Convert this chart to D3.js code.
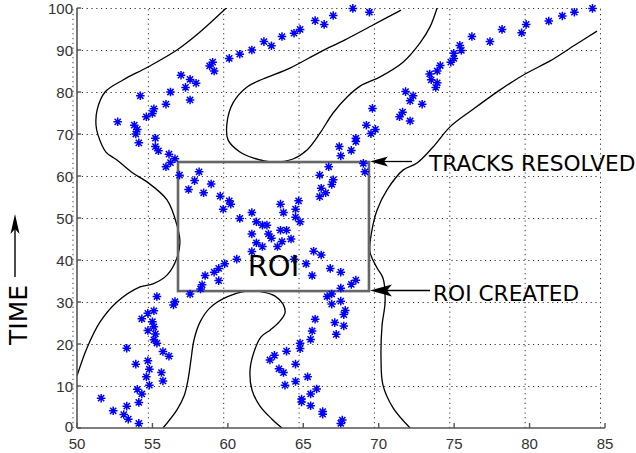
<!DOCTYPE html>
<html><head><meta charset="utf-8">
<script src="https://cdn.jsdelivr.net/npm/d3@7"></script>
<style>body{margin:0;background:#fff}svg{display:block}</style>
</head><body>
<svg id="c" width="636" height="453"></svg>
<script>
// ---- data ----
const xTicks = [50,55,60,65,70,75,80,85];
const yTicks = [0,10,20,30,40,50,60,70,80,90,100];

const trackNW = [[57.1,60.2],[56.2,62.2],[56.5,63.2],[56.8,64.1],[56.4,65.2],[55.7,66.0],[55.5,67.0],[54.4,67.9],[55.5,69.0],[54.2,70.0],[54.3,71.1],[54.1,72.1],[53.0,72.9],[54.9,74.1],[55.3,74.9],[55.4,76.0],[56.2,77.1],[57.8,78.1],[54.5,79.1],[56.5,80.0],[57.5,81.1],[58.2,82.1],[57.8,83.0],[57.2,84.0],[59.4,85.0],[59.1,86.2],[59.3,87.1],[60.4,88.0],[61.1,89.0],[61.9,90.0],[63.2,91.0],[62.7,92.0],[63.9,93.2],[64.7,94.0],[65.1,94.9],[66.1,97.0],[66.7,96.1],[67.3,98.2],[68.6,99.9],[69.7,99.0]];
const trackNE = [[66.4,60.2],[67.0,62.2],[67.3,59.1],[67.2,58.0],[66.5,57.1],[66.8,56.0],[66.4,55.1],[67.8,64.8],[67.7,67.0],[68.5,66.1],[68.8,69.0],[68.8,68.2],[69.3,63.0],[69.4,61.0],[69.9,76.1],[69.5,72.1],[70.1,71.1],[69.8,70.1],[72.1,80.1],[72.6,79.1],[72.4,77.9],[73.2,77.1],[71.9,75.2],[71.7,74.1],[72.4,73.1],[73.8,82.9],[74.2,82.2],[74.1,81.1],[73.7,84.3],[74.2,85.0],[74.4,86.3],[75.1,87.1],[75.3,88.0],[75.3,89.2],[75.8,89.9],[75.7,91.1],[76.5,93.2],[77.7,92.0],[78.5,94.9],[79.8,94.1],[80.1,96.1],[81.6,96.9],[82.5,98.1],[83.3,99.0],[84.5,99.9]];
const trackCenter = [[58.4,61.0],[58.1,58.9],[59.2,58.1],[57.7,56.8],[58.7,56.0],[59.8,55.2],[60.4,54.1],[60.5,53.3],[60.0,52.1],[61.9,51.3],[61.1,49.9],[62.2,49.1],[62.6,48.3],[62.9,48.3],[61.9,46.2],[63.0,46.2],[63.2,45.2],[62.2,44.1],[62.6,43.2],[63.6,43.2],[63.9,44.4],[63.8,47.1],[64.2,47.1],[64.5,45.0],[61.9,42.0],[63.8,53.3],[64.0,51.3],[65.0,54.1],[64.8,52.1],[64.8,50.2],[65.1,49.1]];
const trackSW = [[60.9,40.2],[60.1,39.1],[59.7,38.0],[59.4,37.1],[58.8,36.3],[59.7,35.1],[58.6,34.1],[58.5,33.1],[57.8,31.9],[55.6,31.3],[56.8,30.1],[56.7,29.3],[55.4,27.9],[55.0,27.3],[54.6,26.0],[55.3,25.3],[55.4,24.1],[55.0,23.2],[55.5,22.4],[55.4,21.0],[55.6,20.2],[53.6,19.0],[56.0,18.2],[56.4,17.1],[55.0,16.0],[54.2,15.2],[55.1,14.0],[55.9,13.2],[54.9,12.2],[56.0,11.2],[55.1,10.2],[54.3,9.2],[54.6,8.1],[54.4,6.1],[51.9,7.1],[53.6,5.2],[52.7,4.1],[53.4,3.2],[53.7,2.1],[54.4,1.1]];
const trackSE = [[66.0,42.1],[66.5,41.2],[64.7,40.2],[65.5,39.1],[67.1,38.0],[67.8,37.1],[65.9,36.3],[68.8,35.2],[68.5,34.2],[67.8,33.3],[67.2,31.9],[66.9,31.3],[67.2,29.5],[67.8,30.2],[68.1,28.0],[68.0,27.0],[66.1,25.9],[67.4,25.1],[68.0,24.3],[65.9,23.1],[67.5,22.3],[65.8,21.1],[65.1,20.2],[65.1,18.9],[64.2,18.3],[63.4,17.3],[63.1,16.2],[64.8,15.2],[63.7,14.1],[64.0,13.2],[65.6,12.2],[64.8,11.1],[64.1,10.2],[66.2,9.3],[65.8,8.1],[65.2,6.9],[65.2,6.2],[65.8,5.3],[66.6,3.9],[66.6,3.3],[67.9,1.9],[67.8,1.1]];

const contourLeft = [[60.2,100],[58.46,94.3],[56.93,90.0],[55.0,85.95],[53.35,82.86],[52.16,80.0],[51.63,75.7],[51.56,72.1],[51.69,69.8],[52.22,65.7],[52.95,63.8],[54.0,60.7],[54.94,58.6],[56.27,54.3],[56.93,48.3],[57.13,44.3],[56.93,40.5],[56.27,36.4],[55.34,34.3],[54.48,33.6],[52.95,30.0],[51.82,25.2],[50.96,19.05],[50.3,12.4]];
const contourU = [[71.8,99.5],[69.94,95.95],[68.08,92.4],[66.42,89.5],[64.43,85.7],[62.64,83.1],[61.58,81.2],[60.65,77.4],[60.25,72.6],[60.32,68.6],[61.11,65.7],[61.98,64.3],[63.3,63.33],[64.63,64.05],[65.56,66.2],[66.42,70.2],[67.29,75.0],[68.22,78.8],[69.08,81.4],[70.41,83.6],[71.93,87.1],[73.06,91.7],[73.72,95.5],[74.19,100]];
const contourRight = [[84.8,94.5],[83.34,91.2],[81.69,87.4],[80.03,84.3],[78.37,80.5],[76.51,75.7],[75.05,71.7],[73.92,66.9],[72.86,63.1],[71.93,61.4],[70.87,56.7],[70.21,51.9],[69.87,47.1],[69.74,41.9],[70.21,38.1],[70.6,35.7],[70.74,30.0],[70.54,24.5],[70.47,16.7],[70.6,10.2],[71.27,4.8],[72.4,0]];
const contourBlob = [[56.01,0],[56.93,4.3],[57.4,7.6],[57.66,11.4],[57.86,16.2],[58.06,20.95],[58.46,25.2],[59.12,28.6],[60.25,31.2],[61.58,32.6],[62.57,32.4],[63.44,31.4],[63.97,29.5],[64.1,27.4],[63.7,25.2],[63.11,23.3],[62.51,21.7],[62.04,18.1],[61.78,13.8],[61.91,9.05],[62.44,5.2],[63.24,2.1],[63.9,0]];

const roiX = [57.0, 69.67];
const roiY = [32.6, 63.33];
const annotLabels = ["TRACKS RESOLVED", "ROI CREATED"];
const annotTimes = [63.33, 32.6];

// ---- drawing ----
const svg = d3.select("#c");
svg.append("rect").attr("width",636).attr("height",453).attr("fill","#fff");
const xg = d3.scaleLinear().domain([50,85]).range([72.5,600]);   // plot/grid
const xa = d3.scaleLinear().domain([50,85]).range([77,605]);     // axis ticks
const y = d3.scaleLinear().domain([0,100]).range([428,8]);

const gridStyle = s => s.attr("stroke","#333").attr("stroke-width",1).attr("stroke-dasharray","1.2,3.6");
svg.append("g").selectAll("line").data(xTicks).join("line")
  .attr("x1",d=>xg(d)+0.5).attr("x2",d=>xg(d)+0.5).attr("y1",y(0)).attr("y2",y(100)).call(gridStyle);
svg.append("g").selectAll("line").data(yTicks.filter(d=>d>0)).join("line")
  .attr("x1",xa(50)).attr("x2",xg(85)+0.5).attr("y1",d=>Math.round(y(d))+0.5).attr("y2",d=>Math.round(y(d))+0.5).call(gridStyle);

svg.append("clipPath").attr("id","clip").append("rect")
  .attr("x",xa(50)).attr("y",y(100)).attr("width",xg(85)-xa(50)).attr("height",y(0)-y(100));
const line = d3.line().x(d=>xg(d[0])).y(d=>y(d[1])).curve(d3.curveCatmullRom.alpha(0.5));
svg.append("g").attr("clip-path","url(#clip)").selectAll("path")
  .data([contourLeft,contourU,contourRight,contourBlob]).join("path")
  .attr("d",line).attr("fill","none").attr("stroke","#000").attr("stroke-width",1.3);

svg.append("rect").attr("x",xg(roiX[0])).attr("y",y(roiY[1]))
  .attr("width",xg(roiX[1])-xg(roiX[0])).attr("height",y(roiY[0])-y(roiY[1]))
  .attr("fill","none").attr("stroke","#666").attr("stroke-width",2.6);

const star = "M-4.3,0H4.3M0,-4.3V4.3M-3.1,-3.1L3.1,3.1M-3.1,3.1L3.1,-3.1";
const allPts = [].concat(trackNW,trackNE,trackCenter,trackSW,trackSE);
svg.append("g").selectAll("path").data(allPts).join("path")
  .attr("transform",d=>`translate(${xg(d[0])},${y(d[1])})`)
  .attr("d",star).attr("stroke","#0000ff").attr("stroke-width",1.5).attr("fill","none");

svg.append("text").attr("x",(xg(roiX[0])+xg(roiX[1]))/2).attr("y",y(roiY[0])-15)
  .attr("text-anchor","middle").attr("font-family","DejaVu Sans").attr("font-size",29).attr("fill","#000").text("ROI");

svg.append("line").attr("x1",xa(50)).attr("x2",xa(50)).attr("y1",y(0)).attr("y2",y(100))
  .attr("stroke","#555").attr("stroke-width",1.6);
svg.append("line").attr("x1",xa(50)).attr("x2",xa(85)).attr("y1",y(0)).attr("y2",y(0))
  .attr("stroke","#555").attr("stroke-width",1.6);
svg.append("g").selectAll("line").data(xTicks).join("line")
  .attr("x1",d=>xa(d)).attr("x2",d=>xa(d)).attr("y1",y(0)).attr("y2",y(0)-5).attr("stroke","#555").attr("stroke-width",1.4);
svg.append("g").selectAll("line").data(yTicks).join("line")
  .attr("x1",xa(50)).attr("x2",xa(50)+4).attr("y1",d=>y(d)).attr("y2",d=>y(d)).attr("stroke","#555").attr("stroke-width",1.4);
svg.append("g").selectAll("text").data(xTicks).join("text")
  .attr("x",d=>xa(d)).attr("y",448.5).attr("text-anchor","middle")
  .attr("font-family","Liberation Sans").attr("font-size",15).attr("fill","#333").text(d=>d);
svg.append("g").selectAll("text").data(yTicks).join("text")
  .attr("x",73).attr("y",d=>y(d)+5.5-(d===0?2:0)).attr("text-anchor","end")
  .attr("font-family","Liberation Sans").attr("font-size",15).attr("fill","#333").text(d=>d);

const annot = svg.append("g");
annotLabels.forEach((lab,i)=>{
  const ay = Math.round(y(annotTimes[i]))-0.5;
  const tip = xg(roiX[1])+1;
  const tail = i===0 ? 412 : 430;
  const len = i===0 ? 18 : 22, hw = i===0 ? 5 : 6, notch = i===0 ? 14 : 17;
  annot.append("line").attr("x1",tip+notch).attr("x2",tail).attr("y1",ay).attr("y2",ay)
    .attr("stroke","#000").attr("stroke-width",1.3);
  annot.append("path").attr("d",`M${tip},${ay}L${tip+len},${ay-hw}L${tip+notch},${ay}L${tip+len},${ay+hw}Z`).attr("fill","#000");
  annot.append("text").attr("x",i===0?429:433).attr("y",ay+(i===0?9:10))
    .attr("font-family","DejaVu Sans").attr("font-size",21.7).attr("fill","#000").text(lab);
});

svg.append("text").attr("transform","translate(27,315) rotate(-90)").attr("text-anchor","middle")
  .attr("font-family","DejaVu Sans").attr("font-size",25).attr("fill","#000").text("TIME");
svg.append("line").attr("x1",15).attr("x2",15).attr("y1",277).attr("y2",226).attr("stroke","#000").attr("stroke-width",1.4);
svg.append("path").attr("d","M15,214L10.5,234L15,229L19.5,234Z").attr("fill","#000");
</script>
</body></html>
